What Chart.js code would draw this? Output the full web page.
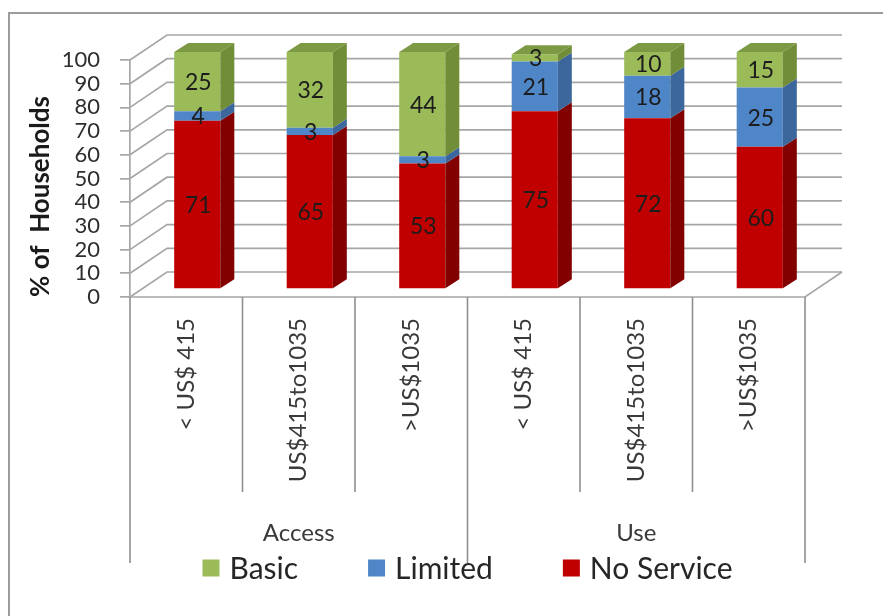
<!DOCTYPE html>
<html>
<head>
<meta charset="utf-8">
<script src="https://cdn.jsdelivr.net/npm/chart.js@4/dist/chart.umd.min.js"></script>
<style>
  html, body { margin: 0; padding: 0; background: #fff; }
  #wrap { width: 883px; height: 616px; }
</style>
</head>
<body>
<div id="wrap"><canvas id="households" width="883" height="616"></canvas></div>
<script>
// categories (income bands) and their groups
const categories = ['< US$ 415', 'US$415to1035', '>US$1035', '< US$ 415', 'US$415to1035', '>US$1035'];
const groups = ['Access', 'Use'];
const groupSize = 3;

// % of households per band, stacked bottom to top
const noService = [71, 65, 53, 75, 72, 60];
const limited = [4, 3, 3, 21, 18, 25];
const basic = [25, 32, 44, 3, 10, 15];

const yTicks = [0, 10, 20, 30, 40, 50, 60, 70, 80, 90, 100];

const FONT = 'Lato, "Open Sans", sans-serif';
const GRID = '#a6a6a6';

// 3d look: bars sit a bit behind the front plane, walls further back
const BAR_SHIFT = { x: 11, y: -8 };
const BAR_DEPTH = { x: 14, y: -9 };
const WALL = { x: 37, y: -25 };

const sideColors = ['#820000', '#3b679c', '#718d38'];
const topColors = ['#8e0000', '#4475b0', '#7c9a43'];

function line(ctx, pts) {
    ctx.beginPath();
    ctx.moveTo(pts[0][0], pts[0][1]);
    for (let i = 1; i < pts.length; i++) ctx.lineTo(pts[i][0], pts[i][1]);
    ctx.stroke();
}

function poly(ctx, pts, fill) {
    ctx.beginPath();
    ctx.moveTo(pts[0][0], pts[0][1]);
    for (let i = 1; i < pts.length; i++) ctx.lineTo(pts[i][0], pts[i][1]);
    ctx.closePath();
    ctx.fillStyle = fill;
    ctx.fill();
}

// outer frame, side wall, back wall gridlines and floor
const wallsPlugin = {
    id: 'walls',
    beforeDraw(chart) {
        const ctx = chart.ctx;
        ctx.save();
        ctx.strokeStyle = '#9c9c9c';
        ctx.lineWidth = 2;
        line(ctx, [[9, 616], [9, 13], [883, 13]]);
        ctx.restore();
    },
    beforeDatasetsDraw(chart) {
        const ctx = chart.ctx;
        const area = chart.chartArea;
        const y = chart.scales.y;
        ctx.save();
        ctx.strokeStyle = GRID;
        ctx.lineWidth = 1.7;
        yTicks.forEach(v => {
            const py = y.getPixelForValue(v);
            line(ctx, [[area.left, py], [area.left + WALL.x, py + WALL.y], [area.right + WALL.x, py + WALL.y]]);
        });
        // floor front and right edges
        line(ctx, [[area.left, area.bottom], [area.right, area.bottom], [area.right + WALL.x, area.bottom + WALL.y]]);
        ctx.restore();

        // bars are drawn a little behind the front plane
        ctx.save();
        ctx.translate(BAR_SHIFT.x, BAR_SHIFT.y);
    },
    afterDatasetsDraw(chart) {
        const ctx = chart.ctx;
        chart.data.datasets.forEach((ds, di) => {
            const meta = chart.getDatasetMeta(di);
            meta.data.forEach((bar, i) => {
                const p = bar.getProps(['x', 'y', 'base', 'width']);
                const left = p.x - p.width / 2;
                const right = p.x + p.width / 2;
                poly(ctx, [[right, p.y], [right + BAR_DEPTH.x, p.y + BAR_DEPTH.y],
                    [right + BAR_DEPTH.x, p.base + BAR_DEPTH.y], [right, p.base]], sideColors[di]);
                if (di === chart.data.datasets.length - 1) {
                    poly(ctx, [[left, p.y], [left + BAR_DEPTH.x, p.y + BAR_DEPTH.y],
                        [right + BAR_DEPTH.x, p.y + BAR_DEPTH.y], [right, p.y]], topColors[di]);
                }
            });
        });
        // value labels in the middle of each segment
        ctx.font = '23px ' + FONT;
        ctx.fillStyle = '#1c1c1c';
        ctx.textAlign = 'center';
        ctx.textBaseline = 'middle';
        chart.data.datasets.forEach((ds, di) => {
            chart.getDatasetMeta(di).data.forEach((bar, i) => {
                const p = bar.getProps(['x', 'y', 'base']);
                ctx.fillText(String(ds.data[i]), p.x + 1, (p.y + p.base) / 2 + 1);
            });
        });
        ctx.restore();
    },
    afterDraw(chart) {
        const ctx = chart.ctx;
        const area = chart.chartArea;
        const x = chart.scales.x;
        const step = (area.right - area.left) / categories.length;
        ctx.save();
        ctx.strokeStyle = '#8f8f8f';
        ctx.lineWidth = 1.6;
        for (let k = 0; k <= categories.length; k++) {
            const px = area.left + k * step;
            const long = k % groupSize === 0;
            line(ctx, [[px, area.bottom], [px, area.bottom + (long ? 266 : 195)]]);
        }
        // group names under the income bands
        ctx.font = '24px ' + FONT;
        ctx.fillStyle = '#3a3a3a';
        ctx.textAlign = 'center';
        ctx.textBaseline = 'middle';
        groups.forEach((g, gi) => {
            const a = x.getPixelForValue(gi * groupSize);
            const b = x.getPixelForValue(gi * groupSize + groupSize - 1);
            ctx.fillText(g, (a + b) / 2, area.bottom + 236);
        });

        // legend, Basic first
        const items = chart.data.datasets.slice().reverse();
        ctx.font = '30px ' + FONT;
        ctx.textAlign = 'left';
        const box = 17, gapText = 10, gapItem = 70;
        const widths = items.map(ds => box + gapText + ctx.measureText(ds.label).width);
        const total = widths.reduce((s, w) => s + w, 0) + gapItem * (items.length - 1);
        let cx = (area.left + area.right) / 2 - total / 2;
        const ly = area.bottom + 271;
        items.forEach((ds, i) => {
            ctx.fillStyle = ds.backgroundColor;
            ctx.fillRect(cx, ly - box / 2, box, box);
            ctx.fillStyle = '#262626';
            ctx.fillText(ds.label, cx + box + gapText, ly + 1);
            cx += widths[i] + gapItem;
        });
        ctx.restore();
    }
};

const ctx = document.getElementById('households');

new Chart(ctx, {
    type: 'bar',
    data: {
        labels: categories,
        datasets: [
            { label: 'No Service', data: noService, backgroundColor: '#c00000' },
            { label: 'Limited', data: limited, backgroundColor: '#4f86c8' },
            { label: 'Basic', data: basic, backgroundColor: '#9bbb59' }
        ]
    },
    plugins: [wallsPlugin],
    options: {
        responsive: false,
        animation: false,
        events: [],
        layout: { padding: { left: 10, top: 60, right: 78, bottom: 119 } },
        datasets: { bar: { categoryPercentage: 1, barPercentage: 0.41, clip: false } },
        plugins: {
            legend: { display: false },
            tooltip: { enabled: false }
        },
        scales: {
            x: {
                stacked: true,
                offset: true,
                grid: { display: false, drawTicks: false },
                border: { display: false },
                ticks: {
                    autoSkip: false,
                    minRotation: 90,
                    maxRotation: 90,
                    padding: 21,
                    color: '#3a3a3a',
                    font: { family: FONT, size: 24 }
                },
                afterFit(scale) { scale.height = 200; }
            },
            y: {
                stacked: true,
                min: 0,
                max: 100,
                afterBuildTicks(scale) { scale.ticks = yTicks.map(v => ({ value: v })); },
                grid: { drawOnChartArea: false, drawTicks: true, tickLength: 10, color: GRID, lineWidth: 1.7 },
                border: { display: true, color: GRID, width: 1.7 },
                ticks: {
                    autoSkip: false,
                    padding: 20,
                    color: '#2e2e2e',
                    font: { family: FONT, size: 22 }
                },
                title: {
                    display: true,
                    text: '% of  Households',
                    align: 'start',
                    color: '#1a1a1a',
                    padding: { top: 15, bottom: 0 },
                    font: { family: FONT, size: 26, weight: 'bold' }
                },
                afterFit(scale) { scale.width = 120; }
            }
        }
    }
});
</script>
</body>
</html>
